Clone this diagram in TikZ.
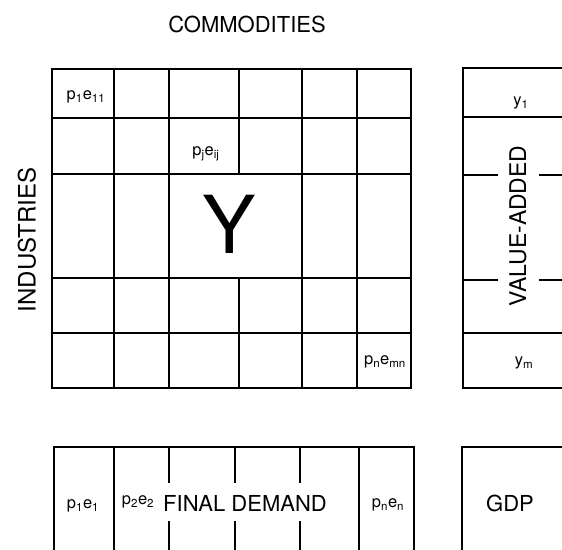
\documentclass[tikz,border=0pt]{standalone}
\usepackage{fontspec}
\setmainfont{TeX Gyre Heros}
\tikzset{
  gridline/.style={line width=2pt, line cap=rect},
  celltext/.style={font=\fontsize{16.5}{16.5}\selectfont, inner sep=0pt},
  headtext/.style={font=\fontsize{22}{22}\selectfont, inner sep=0pt}
}

\begin{document}
\begin{tikzpicture}[x=1pt,y=-1pt]
  \useasboundingbox (0,0) rectangle (562,549);
  % flow matrix
  \draw[gridline] (52,69) rectangle (411,388);
  \foreach \x in {114,169,302,357}
    \draw[gridline] (\x,69) -- (\x,388);
  \draw[gridline] (239,69) -- (239,174) (239,278) -- (239,388);
  \foreach \y in {118,174,278,333}
    \draw[gridline] (52,\y) -- (411,\y);
  % value-added column
  \draw[gridline] (562,68) -- (463,68) -- (463,388) -- (562,388);
  \foreach \y in {117,333}
    \draw[gridline] (463,\y) -- (562,\y);
  \foreach \y in {175,280}
    \draw[gridline] (463,\y) -- (497,\y) (540,\y) -- (562,\y);
  % final demand row
  \draw[gridline] (54,549) -- (54,447) -- (414,447) -- (414,549);
  \foreach \x in {114,359}
    \draw[gridline] (\x,447) -- (\x,549);
  \foreach \x in {169,235,300}
    \draw[gridline] (\x,447) -- (\x,482) (\x,522) -- (\x,549);
  \draw[gridline] (462,549) -- (462,447) -- (562,447);

  \node[headtext] (comm) at (247,24) {COMMODITIES};
  \node[headtext, font=\fontsize{24}{24}\selectfont, rotate=90] (ind) at (27,240) {INDUSTRIES};
  \node[headtext, font=\fontsize{23}{23}\selectfont, rotate=90] (va) at (518,226) {VALUE-ADDED};
  \node[inner sep=0pt, font=\fontsize{80}{80}\selectfont] (bigy) at (229,224) {Y};
  \node[celltext] (e11) at (86,97) {p\textsubscript{1}e\textsubscript{11}};
  \node[celltext] (eij) at (206,154) {p\textsubscript{j}e\textsubscript{ij}};
  \node[celltext] (emn) at (385,362) {p\textsubscript{n}e\textsubscript{mn}};
  \node[celltext] (y1) at (521,103) {y\textsubscript{1}};
  \node[celltext] (ym) at (524,363) {y\textsubscript{m}};
  \node[celltext] (f1) at (83,506) {p\textsubscript{1}e\textsubscript{1}};
  \node[celltext] (f2) at (138,502) {p\textsubscript{2}e\textsubscript{2}};
  \node[headtext] (fd) at (245,503) {FINAL DEMAND};
  \node[celltext] (fn) at (388,505) {p\textsubscript{n}e\textsubscript{n}};
  \node[headtext] (gdp) at (510,503) {GDP};
\end{tikzpicture}
\end{document}
